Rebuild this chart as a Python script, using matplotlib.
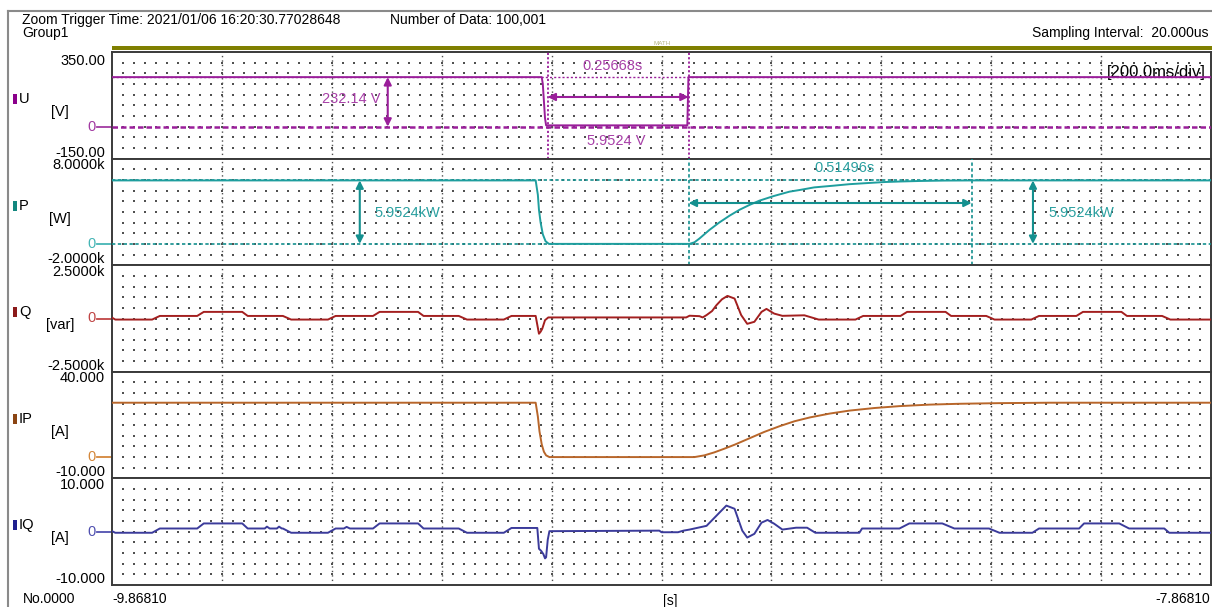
import matplotlib
matplotlib.use('Agg')
import matplotlib.pyplot as plt
from matplotlib.patches import Rectangle
from matplotlib.lines import Line2D
from matplotlib.transforms import blended_transform_factory
import numpy as np

plt.rcParams['font.family'] = ['Liberation Sans', 'DejaVu Sans']

# ---- recording window ----
T0 = -9.86810          # s, left edge
T1 = -7.86810          # s, right edge

# ---- channel data: time in ms from the left edge, values in channel units ----
u_ms = [0, 782, 784, 786, 788, 790, 1047, 1049, 2000]
u_val = [232.14, 232.14, 200, 120, 40, 5.95, 5.95, 232.14, 232.14]

p_ms = [0, 771, 775, 777, 780, 784, 789, 795, 1051, 1060, 1069, 1087, 1105, 1124,
        1142, 1160, 1178, 1205, 1233, 1251, 1278, 1311, 1342, 1373, 1405, 1433,
        1469, 1515, 1569, 2000]
p_val = [5952, 5952, 4600, 3200, 2000, 900, 250, 0, 0, 150, 500, 1300, 2000, 2650,
         3200, 3650, 4050, 4500, 4900, 5050, 5300, 5450, 5600, 5700, 5800, 5850,
         5900, 5940, 5952, 5952]

q_ms = [0, 6, 73, 87, 155, 167, 237, 247, 311, 326, 393, 407, 475, 487, 557, 567,
        631, 646, 713, 727, 771, 774, 777, 780, 783, 788, 794, 1045, 1051, 1069,
        1075, 1082, 1092, 1100, 1110, 1120, 1133, 1145, 1156, 1169, 1182, 1191,
        1205, 1220, 1260, 1286, 1353, 1367, 1435, 1447, 1517, 1527, 1591, 1606,
        1673, 1687, 1755, 1767, 1837, 1847, 1911, 1926, 2000]
q_val = [40, -50, -50, 120, 120, 310, 310, 120, 120, -50, -50, 120, 120, 310, 310, 120,
         120, -50, -50, 120, 120, -300, -715, -620, -480, -80, 50, 50, 130, 110,
         50, 160, 350, 625, 900, 1060, 935, 160, -250, -155, 310, 450,
         230, 125, 150, -50, -50, 120, 120, 310, 310, 120, 120, -50,
         -50, 120, 120, 310, 310, 120, 120, -50, -50]

ip_ms = [0, 771, 775, 778, 782, 786, 790, 796, 1060, 1078, 1096, 1114, 1133, 1151,
         1169, 1187, 1215, 1242, 1270, 1306, 1342, 1387, 1433, 1487, 1542, 1615,
         1706, 2000]
ip_val = [25.5, 25.5, 19, 12, 6, 2.5, 0.8, 0, 0, 0.8, 2.2, 3.9, 5.8, 7.8,
          9.8, 11.8, 14.5, 16.8, 18.6, 20.4, 21.8, 23.0, 23.9, 24.6, 25.0, 25.3,
          25.5, 25.5]

iq_ms = [0, 6, 73, 87, 155, 167, 237, 247, 278, 282, 287, 300, 304, 309, 311, 326,
         393, 407, 422, 427, 433, 475, 487, 557, 567, 631, 646, 713, 727, 774, 777,
         781, 785, 788, 790, 793, 796, 996, 1000, 1030, 1040, 1051, 1082, 1100,
         1118, 1133, 1147, 1156, 1169, 1182, 1193, 1205, 1220, 1245, 1265, 1280,
         1360, 1365, 1433, 1451, 1511, 1533, 1596, 1615, 1675, 1687, 1760, 1769,
         1833, 1851, 1915, 1924, 2000]
iq_val = [0.1, -0.2, -0.2, 0.6, 0.6, 1.55, 1.55, 0.6, 0.6, 0.95, 0.6, 0.6, 0.95, 0.6, 0.6, -0.2,
          -0.2, 0.6, 0.6, 0.9, 0.6, 0.6, 1.55, 1.55, 0.6, 0.6, -0.2, -0.2, 0.7, 0.7, -3.2,
          -3.6, -4.2, -5.0, -4.8, -1.5, 0.1, 0.2, -0.1, -0.1, 0.2, 0.4, 1.1, 3.0,
          4.9, 4.3, 0.2, -1.1, -0.4, 1.7, 2.2, 1.5, 0.4, 0.75, 0.75, -0.2,
          -0.2, 0.6, 0.6, 1.55, 1.55, 0.6, 0.6, -0.2, -0.2, 0.6, 0.6, 1.55,
          1.55, 0.6, 0.6, -0.2, -0.2]

channels = [
    dict(name='U', unit='[V]', vmax=350, vmin=-150, top_lbl='350.00', bot_lbl='-150.00',
         color='#9A1E9A', mark='#8B008B', zero='#A23AA2', t=u_ms, v=u_val),
    dict(name='P', unit='[W]', vmax=8000, vmin=-2000, top_lbl='8.0000k', bot_lbl='-2.0000k',
         color='#1E9E9E', mark='#13877F', zero='#45B5B5', t=p_ms, v=p_val),
    dict(name='Q', unit='[var]', vmax=2500, vmin=-2500, top_lbl='2.5000k', bot_lbl='-2.5000k',
         color='#A31F1F', mark='#8B1A1A', zero='#C04545', t=q_ms, v=q_val),
    dict(name='IP', unit='[A]', vmax=40, vmin=-10, top_lbl='40.000', bot_lbl='-10.000',
         color='#B8662A', mark='#8B4513', zero='#D4873A', t=ip_ms, v=ip_val),
    dict(name='IQ', unit='[A]', vmax=10, vmin=-10, top_lbl='10.000', bot_lbl='-10.000',
         color='#3B3B9B', mark='#1F1F8F', zero='#5050B0', t=iq_ms, v=iq_val),
]

# cursor readings
cur_u = (T0 + 0.7927, 0.25668)       # start time, width  [s]
cur_p = (T0 + 1.0494, 0.51496)
u_level = 232.14
p_level = 5952.4

W, H = 1212, 607
fig = plt.figure(figsize=(W / 100, H / 100), dpi=100)


def fx(px):
    return px / W


def fy(py):
    return 1 - py / H


# outer frame and header
fig.add_artist(Line2D([fx(8), fx(8)], [fy(11), fy(607)], color='#8a8a8a', lw=1.5))
fig.add_artist(Line2D([fx(8), fx(1212)], [fy(11), fy(11)], color='#8a8a8a', lw=1.5))
fig.text(fx(22), fy(20), 'Zoom Trigger Time: 2021/01/06 16:20:30.77028648', fontsize=10, va='center')
fig.text(fx(22), fy(32.5), 'Group1', fontsize=10, va='center')
fig.text(fx(390), fy(20), 'Number of Data: 100,001', fontsize=10, va='center')
fig.text(fx(1208), fy(33), 'Sampling Interval:  20.000us', fontsize=10, va='center', ha='right')
fig.add_artist(Rectangle((fx(112), fy(49.5)), fx(1212) - fx(112), 3.5 / H,
                         transform=fig.transFigure, color='#7F7F00', lw=0))
fig.text(fx(662), fy(43.5), 'MATH', fontsize=4.5, color='#B4B480', ha='center', va='center')

left, right = 112, 1211
top0, bottom0 = 52, 585
ph = (bottom0 - top0) / len(channels)

axes = []
for i, ch in enumerate(channels):
    top = top0 + i * ph
    ax = fig.add_axes([fx(left), fy(top + ph), fx(right) - fx(left), ph / H])
    ax.set_xlim(T0, T1)
    ax.set_ylim(ch['vmin'], ch['vmax'])
    ax.set_xticks([])
    ax.set_yticks([])
    for s in ax.spines.values():
        s.set_color('#3a3a3a')
        s.set_linewidth(1.4)

    # dotted grid
    span = ch['vmax'] - ch['vmin']
    gx = T0 + np.arange(1, 100) * 0.02
    gy = ch['vmin'] + span * np.arange(1, 10) / 10
    mx, my = np.meshgrid(gx, gy)
    ax.scatter(mx.ravel(), my.ravel(), s=1.5, marker='s', c='#505050', lw=0, zorder=1)
    for k in range(1, 10):
        ax.axvline(T0 + 0.2 * k, ls=(0, (1, 2.2)), lw=1.0, color='#505050', zorder=1)

    t = T0 + np.array(ch['t']) / 1000.0
    ax.plot(t, ch['v'], color=ch['color'], lw=1.4, zorder=4)

    # zero tick and labels
    tr = blended_transform_factory(ax.transAxes, ax.transData)
    ax.plot([-0.0135, 0], [0, 0], transform=tr, clip_on=False, color=ch['zero'], lw=1.3)
    zy = top + ph * ch['vmax'] / span
    fig.text(fx(96), fy(zy), '0', color=ch['zero'], fontsize=10.5, ha='right', va='center')
    fig.text(fx(105), fy(top + (9 if i == 0 else 6.5)), ch['top_lbl'], fontsize=10.5, ha='right', va='center')
    fig.text(fx(105), fy(top + ph - 6), ch['bot_lbl'], fontsize=10.5, ha='right', va='center')
    fig.add_artist(Rectangle((fx(13), fy(top + 52)), 4 / W, 10 / H, transform=fig.transFigure,
                             color=ch['mark'], lw=0))
    fig.text(fx(19), fy(top + 47), ch['name'], fontsize=10.5, va='center')
    fig.text(fx(60), fy(top + 60), ch['unit'], fontsize=10.5, va='center', ha='center')
    axes.append(ax)

arrow_kw = dict(arrowstyle='<|-|>', lw=1.5, mutation_scale=11, shrinkA=0, shrinkB=0)

# --- U cursors ---
ax = axes[0]
cu = '#9A1E9A'
ta, tb = cur_u[0], cur_u[0] + cur_u[1]
for tt in (ta, tb):
    ax.axvline(tt, color=cu, ls=(0, (1.2, 1.2)), lw=1.3, zorder=3)
ax.axhline(0, color=cu, ls=(0, (2.2, 1.2)), lw=1.8, zorder=3)
ax.axhline(u_level, color=cu, ls=(0, (1.5, 1.5)), lw=1.0, zorder=3)
ax.annotate('', xy=(tb, 139), xytext=(ta, 139), arrowprops=dict(color=cu, **arrow_kw), zorder=5)
ax.annotate('', xy=(T0 + 0.5018, 0), xytext=(T0 + 0.5018, u_level),
            arrowprops=dict(color=cu, **arrow_kw), zorder=5)
ax.text(T0 + 0.489, 130, '232.14 V', color='#A840A8', fontsize=10.5, ha='right', va='center')
ax.text(T0 + 0.911, 284, '0.25668s', color='#A840A8', fontsize=10.5, ha='center', va='center')
ax.text(T0 + 0.918, -67, '5.9524 V', color='#A840A8', fontsize=10.5, ha='center', va='center')
ax.text(0.9955, 0.81, '[200.0ms/div]', transform=ax.transAxes, fontsize=12, ha='right', va='center')

# --- P cursors ---
ax = axes[1]
cp = '#14908F'
ta, tb = cur_p[0], cur_p[0] + cur_p[1]
for tt in (ta, tb):
    ax.axvline(tt, color=cp, ls=(0, (2, 1.5)), lw=1.2, zorder=3)
ax.axhline(0, color=cp, ls=(0, (2, 1.5)), lw=1.2, zorder=3)
ax.axhline(p_level, color=cp, ls=(0, (2, 1.5)), lw=1.2, zorder=3)
ax.annotate('', xy=(tb, 3835), xytext=(ta, 3835), arrowprops=dict(color=cp, **arrow_kw), zorder=5)
for tx, lx in ((T0 + 0.4509, T0 + 0.478), (T0 + 1.676, T0 + 1.705)):
    ax.annotate('', xy=(tx, 0), xytext=(tx, p_level), arrowprops=dict(color=cp, **arrow_kw), zorder=5)
    ax.text(lx, 2850, '5.9524kW', color='#2AA0A0', fontsize=10.5, ha='left', va='center')
ax.text(T0 + 1.333, 7120, '0.51496s', color='#2AA0A0', fontsize=10.5, ha='center', va='center')

# bottom labels
fig.text(fx(23), fy(599), 'No.0000', fontsize=10, va='center')
fig.text(fx(112), fy(599), '-9.86810', fontsize=10, va='center')
fig.text(fx(670), fy(601), '[s]', fontsize=10, va='center', ha='center')
fig.text(fx(1210), fy(599), '-7.86810', fontsize=10, va='center', ha='right')

fig.savefig('out.png', dpi=100)
